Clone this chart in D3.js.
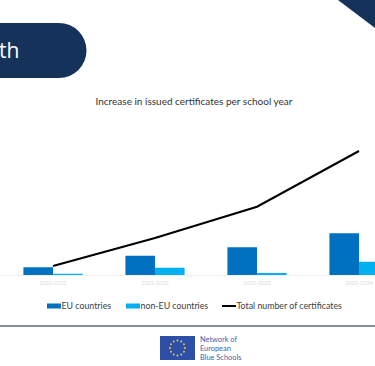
<!DOCTYPE html>
<html><head><meta charset="utf-8">
<script src="https://cdn.jsdelivr.net/npm/d3@7/dist/d3.min.js"></script>
<style>html,body{margin:0;padding:0;background:#fff;}svg{display:block;}</style>
</head><body><div id="chart"></div>
<script>
const categories = ["2020-2021", "2021-2022", "2022-2023", "2023-2024"];
const euValues = [31, 77, 111, 167];
const nonEuValues = [5, 29, 8, 53];
const totalValues = [36, 148, 273, 496];
const seriesNames = ["EU countries", "non-EU countries", "Total number of certificates"];
const chartTitle = "Increase in issued certificates per school year";
const headerText = "th";
const logoLines = ["Network of", "European", "Blue Schools"];

const W = 375, H = 366;
const navy = "#15335a";
const svg = d3.select("#chart").append("svg").attr("width", W).attr("height", H);
const font = "Lato, 'Open Sans', sans-serif";

// header pill
svg.append("path").attr("fill", navy)
  .attr("d", "M-30,23 H59 A27.5,27.5 0 0 1 59,78 H-30 Z");
svg.append("text").attr("x", -1).attr("y", 58).attr("fill", "#fff")
  .attr("font-family", "'Open Sans', sans-serif").attr("font-size", 21).text(headerText);
// top-right triangle
svg.append("path").attr("fill", navy).attr("d", "M338,0 H375 V28 Z");

// title
svg.append("text").attr("x", 194).attr("y", 105).attr("text-anchor", "middle")
  .attr("font-family", font).attr("font-size", 10).attr("fill", "#333333").text(chartTitle);

// scales
const x0 = d3.scaleBand().domain(categories).range([2, 410]).paddingInner(0.42).paddingOuter(0.21);
const x1 = d3.scaleBand().domain(["eu", "non"]).range([0, x0.bandwidth()]);
const y = d3.scaleLinear().domain([0, 600]).range([275, 125]);

// baseline axis
const xAxis = d3.axisBottom(x0).tickSize(0).tickPadding(6);
const ax = svg.append("g").attr("transform", "translate(0,275)").call(xAxis);
ax.select(".domain").attr("stroke", "#eeeeee").attr("d", "M0,0.5H375");
ax.selectAll("text").attr("font-family", font).attr("font-size", 5.5).attr("fill", "#dcdcdc");

const g = svg.append("g");
categories.forEach((c, i) => {
  g.append("rect").attr("x", x0(c) + x1("eu")).attr("width", x1.bandwidth())
    .attr("y", y(euValues[i])).attr("height", y(0) - y(euValues[i])).attr("fill", "#0070c0");
  g.append("rect").attr("x", x0(c) + x1("non")).attr("width", x1.bandwidth())
    .attr("y", y(nonEuValues[i])).attr("height", y(0) - y(nonEuValues[i])).attr("fill", "#00b0f0");
});

const line = d3.line().x((d, i) => x0(categories[i]) + x0.bandwidth() / 2).y(d => y(d));
svg.append("path").datum(totalValues).attr("d", line).attr("fill", "none")
  .attr("stroke", "#000").attr("stroke-width", 2);

// legend
const ly = 306;
const leg = svg.append("g").attr("font-family", font).attr("font-size", 8.8).attr("fill", "#404040");
leg.append("rect").attr("x", 47).attr("y", ly - 2.5).attr("width", 14).attr("height", 5).attr("fill", "#0070c0");
leg.append("text").attr("x", 61.5).attr("y", ly + 3).text(seriesNames[0]);
leg.append("rect").attr("x", 126).attr("y", ly - 2.5).attr("width", 14).attr("height", 5).attr("fill", "#00b0f0");
leg.append("text").attr("x", 140.5).attr("y", ly + 3).text(seriesNames[1]);
leg.append("line").attr("x1", 222).attr("x2", 236).attr("y1", ly).attr("y2", ly).attr("stroke", "#000").attr("stroke-width", 2);
leg.append("text").attr("x", 236.5).attr("y", ly + 3).text(seriesNames[2]);

// separator
svg.append("line").attr("x1", 0).attr("x2", W).attr("y1", 326).attr("y2", 326)
  .attr("stroke", "#5d6b7a").attr("stroke-width", 1.5);

// logo
svg.append("rect").attr("x", 160).attr("y", 336).attr("width", 35).attr("height", 24).attr("fill", "#2e4fa6");
const cx = 177.5, cy = 348, r = 7.5;
for (let k = 0; k < 12; k++) {
  const a = k * Math.PI / 6;
  svg.append("circle").attr("cx", cx + r * Math.cos(a)).attr("cy", cy + r * Math.sin(a)).attr("r", 0.9).attr("fill", "#f2d43a");
}
logoLines.forEach((t, i) => {
  svg.append("text").attr("x", 200).attr("y", 341.5 + i * 9.3).attr("font-family", font)
    .attr("font-size", 7.4).attr("fill", "#3f5ea6").text(t);
});
</script></body></html>
